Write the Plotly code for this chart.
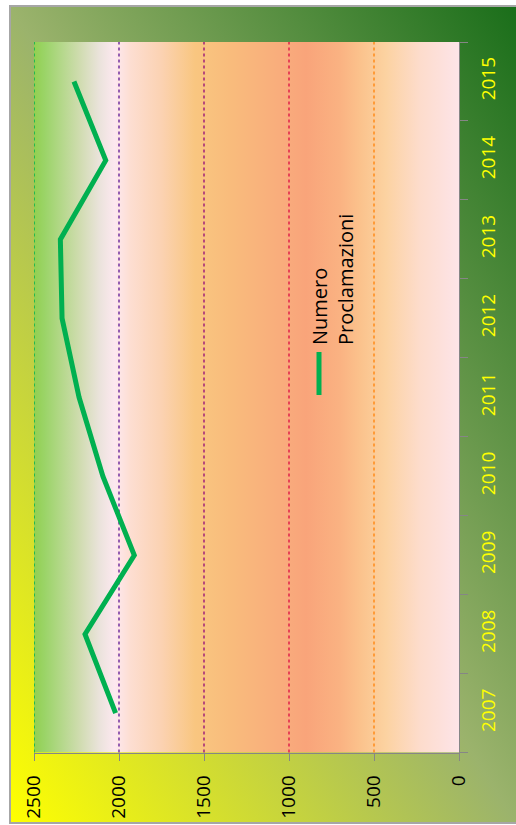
import base64
import plotly.graph_objects as go

# ---- data ----
years = ["2007", "2008", "2009", "2010", "2011", "2012", "2013", "2014", "2015"]
proclamazioni = [2020, 2200, 1910, 2095, 2235, 2335, 2345, 2078, 2265]
series_name = "Numero<br>Proclamazioni"
value_ticks = [0, 500, 1000, 1500, 2000, 2500]
grid_values = [2500, 2000, 1500, 1000, 500]
grid_colors = ["#00b050", "#7030a0", "#a0207a", "#e0204a", "#ff8c1a"]

W, H = 516, 825
# plot area in pixels
PL, PR, PT, PB = 34, 459, 42, 752.6


def px_x(v):
    return v / W


def px_y(v):
    return 1 - v / H


def svg_uri(svg):
    return "data:image/svg+xml;base64," + base64.b64encode(svg.encode()).decode()


def grad_svg(stops, x1, y1, x2, y2):
    st = "".join(f'<stop offset="{o}" stop-color="{c}"/>' for o, c in stops)
    return (
        '<svg xmlns="http://www.w3.org/2000/svg" width="100" height="100" '
        'viewBox="0 0 100 100" preserveAspectRatio="none"><defs>'
        f'<linearGradient id="g" x1="{x1}" y1="{y1}" x2="{x2}" y2="{y2}">{st}</linearGradient>'
        '</defs><rect width="100" height="100" fill="url(#g)"/></svg>'
    )


outer_stops = [(0, "#ffff00"), (0.5, "#9bb36c"), (1, "#1a6e1a")]
plot_stops = [
    (0.0, "#92d050"), (0.026, "#9bd468"), (0.108, "#d0dcb0"), (0.155, "#ebe3dc"),
    (0.19, "#fde8f0"), (0.226, "#fdded2"), (0.30, "#fbd2b2"), (0.379, "#f9c680"),
    (0.46, "#f9bc7c"), (0.60, "#f9aa7c"), (0.64, "#f9a47a"), (0.72, "#fab282"),
    (0.767, "#fbc28c"), (0.826, "#fcd2a0"), (0.908, "#fddccc"), (1.0, "#fde4e8"),
]

font_family = "Open Sans"

fig = go.Figure()
fig.add_trace(go.Scatter(
    x=proclamazioni, y=years, mode="lines",
    line=dict(color="#00b050", width=5),
    name="Numero Proclamazioni", showlegend=False, hoverinfo="x+y",
))

shapes = []
for v, c in zip(grid_values, grid_colors):
    shapes.append(dict(type="line", xref="x", yref="y domain", x0=v, x1=v, y0=0, y1=1,
                       line=dict(color=c, width=1.5, dash="dot"), layer="below"))
# outer chart border
shapes.append(dict(type="rect", xref="paper", yref="paper",
                   x0=px_x(10), x1=1.02, y0=px_y(823), y1=px_y(6),
                   line=dict(color="#a6a6a6", width=2), layer="above"))
# legend glyph
shapes.append(dict(type="line", xref="paper", yref="paper",
                   x0=px_x(319), x1=px_x(319), y0=px_y(352), y1=px_y(395),
                   line=dict(color="#00b050", width=5)))

images = [
    dict(source=svg_uri(grad_svg(outer_stops, 0, 1, 1, 0)), xref="paper", yref="paper",
         x=px_x(10), y=px_y(6), sizex=1 - px_x(10), sizey=px_y(6) - px_y(823),
         xanchor="left", yanchor="top", sizing="stretch", layer="below"),
    dict(source=svg_uri(grad_svg(plot_stops, 0, 0, 1, 0)), xref="paper", yref="paper",
         x=px_x(PL), y=px_y(PT), sizex=px_x(PR) - px_x(PL), sizey=px_y(PT) - px_y(PB),
         xanchor="left", yanchor="top", sizing="stretch", layer="below"),
]

annotations = [dict(
    text=series_name, xref="paper", yref="paper",
    x=px_x(333), y=px_y(280), xanchor="center", yanchor="middle",
    textangle=-90, align="left", showarrow=False,
    font=dict(family=font_family, size=20, color="#000000"),
)]

fig.update_layout(
    width=W, height=H,
    margin=dict(l=0, r=0, t=0, b=0, autoexpand=False),
    paper_bgcolor="#ffffff",
    plot_bgcolor="rgba(0,0,0,0)",
    shapes=shapes, images=images, annotations=annotations,
    showlegend=False,
    xaxis=dict(
        domain=[px_x(PL), px_x(PR)], range=[2500, 0], automargin=False,
        tickvals=value_ticks, ticktext=[str(v) for v in value_ticks],
        tickangle=-90, ticks="outside", ticklen=7, tickcolor="#868686", tickwidth=1.25,
        showline=True, linecolor="#868686", linewidth=1.25,
        showgrid=False, zeroline=False, ticklabelstandoff=7,
        tickfont=dict(family=font_family, size=19, color="#000000"),
    ),
    yaxis=dict(
        domain=[px_y(PB), px_y(PT)], type="category", side="right", automargin=False,
        range=[-0.5, len(years) - 0.5], tickson="boundaries",
        tickangle=-90, ticks="outside", ticklen=8, tickcolor="#868686", tickwidth=1.25,
        showline=True, linecolor="#868686", linewidth=1.25,
        showgrid=False, zeroline=False, ticklabelstandoff=12,
        tickfont=dict(family=font_family, size=19, color="#ffff00"),
    ),
)

fig.write_html("out.html", config={"displayModeBar": False},
               post_script="document.body.style.margin='0';")
